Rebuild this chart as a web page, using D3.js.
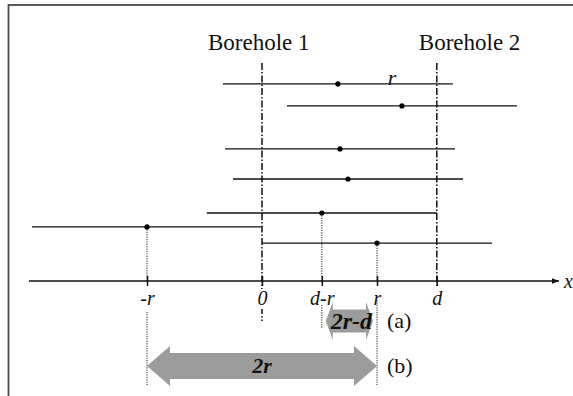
<!DOCTYPE html>
<html>
<head>
<meta charset="utf-8">
<script src="https://cdn.jsdelivr.net/npm/d3@7"></script>
<style>
  html, body { margin: 0; padding: 0; background: #fff; }
  svg { display: block; }
  svg text { font-family: "Liberation Serif", Tinos, "Times New Roman", Times, "DejaVu Serif", serif; fill: #111; }
</style>
</head>
<body>
<svg id="chart" width="573" height="396"></svg>
<script>
// --- data (x in units of r, with d = borehole spacing) ---
var dVal = 1.52;
var boreholeNames = ["Borehole 1", "Borehole 2"];
var boreholeX = [0, dVal];

// sample intervals [c - r, c + r], centre c and row level (0 = axis, 1 = top)
var segCenters = [0.66, 1.217, 0.678, 0.748, dVal - 1, -1, 1];
var segLevels  = [0.904, 0.803, 0.606, 0.468, 0.312, 0.248, 0.174];

var tickValues = [-1, 0, dVal - 1, 1, dVal];
var tickLabels = ["-r", "0", "d-r", "r", "d"];

// dotted guides dropped from the interval centres
var guideX = [-1, dVal - 1, 1];
var guideLevel = [0.248, 0.312, 0.174];

// overlap arrows
var arrowFrom  = [dVal - 1, -1];
var arrowTo    = [1, 1];
var arrowText  = ["2r-d", "2r"];
var arrowTags  = ["(a)", "(b)"];

var FONT = "'Liberation Serif', Tinos, 'Times New Roman', Times, 'DejaVu Serif', serif";

var svg = d3.select("#chart");

var x = d3.scaleLinear().domain([-2, 2.6]).range([32, 561]);
var y = d3.scaleLinear().domain([0, 1]).range([281, 63]);
var axisY = y(0);

// frame (only top and left visible)
svg.append("rect")
  .attr("x", 8.5).attr("y", 5)
  .attr("width", 640).attr("height", 440)
  .attr("fill", "none")
  .attr("stroke", "#4a4a4a")
  .attr("stroke-width", 1.8);

// arrow marker for x axis
svg.append("defs").append("marker")
  .attr("id", "ax")
  .attr("viewBox", "0 0 10 10")
  .attr("refX", 10).attr("refY", 5)
  .attr("markerWidth", 7).attr("markerHeight", 7)
  .attr("markerUnits", "userSpaceOnUse")
  .attr("orient", "auto")
  .append("path")
  .attr("d", "M0,1 L10,5 L0,9 Z")
  .attr("fill", "#111");

// boreholes
var bh = svg.append("g").attr("class", "boreholes");
bh.selectAll("line.top")
  .data(boreholeX)
  .join("line")
  .attr("class", "top")
  .attr("x1", function(d) { return x(d); })
  .attr("x2", function(d) { return x(d); })
  .attr("y1", y(1))
  .attr("y2", function(d, i) { return i === 0 ? axisY + 8 : axisY + 7; })
  .attr("stroke", "#111")
  .attr("stroke-width", 1.5)
  .attr("stroke-dasharray", "7,2,1.5,2");
// short piece of borehole 1 below the "0" label
bh.append("line")
  .attr("x1", x(boreholeX[0])).attr("x2", x(boreholeX[0]))
  .attr("y1", 309).attr("y2", 321)
  .attr("stroke", "#111")
  .attr("stroke-width", 1.5)
  .attr("stroke-dasharray", "5,2,1.5,2");

bh.selectAll("text")
  .data(boreholeNames)
  .join("text")
  .attr("x", function(d, i) { return x(boreholeX[i]) + (i === 0 ? -54 : -18); })
  .attr("y", 50)
  .attr("font-family", FONT)
  .attr("font-size", 23)
  .text(function(d) { return d; });

// dotted guides
var guides = svg.append("g").attr("class", "guides")
  .attr("stroke", "#222").attr("stroke-width", 1)
  .attr("stroke-dasharray", "1.2,1.2");
guides.selectAll("line.up")
  .data(guideX)
  .join("line")
  .attr("class", "up")
  .attr("x1", function(d) { return x(d); })
  .attr("x2", function(d) { return x(d); })
  .attr("y1", function(d, i) { return y(guideLevel[i]); })
  .attr("y2", axisY);
var guideLow = [[312, 385], [305, 328], [300, 385]];
guides.selectAll("line.down")
  .data(guideX)
  .join("line")
  .attr("class", "down")
  .attr("x1", function(d) { return x(d); })
  .attr("x2", function(d) { return x(d); })
  .attr("y1", function(d, i) { return guideLow[i][0]; })
  .attr("y2", function(d, i) { return guideLow[i][1]; });

// intervals
var segs = svg.append("g").attr("class", "segments");
segs.selectAll("line")
  .data(segCenters)
  .join("line")
  .attr("x1", function(d) { return x(d - 1); })
  .attr("x2", function(d) { return x(d + 1); })
  .attr("y1", function(d, i) { return y(segLevels[i]); })
  .attr("y2", function(d, i) { return y(segLevels[i]); })
  .attr("stroke", "#111")
  .attr("stroke-width", 1.3);
segs.selectAll("circle")
  .data(segCenters)
  .join("circle")
  .attr("cx", function(d) { return x(d); })
  .attr("cy", function(d, i) { return y(segLevels[i]); })
  .attr("r", 2.6)
  .attr("fill", "#000");

// radius label on the top interval
svg.append("text")
  .attr("x", x(segCenters[0] + 0.47))
  .attr("y", y(segLevels[0]) + 1)
  .attr("font-family", FONT)
  .attr("font-size", 22)
  .attr("font-style", "italic")
  .attr("text-anchor", "middle")
  .text("r");

// x axis
var axis = d3.axisBottom(x)
  .tickValues(tickValues)
  .tickFormat(function(d, i) { return tickLabels[i]; })
  .tickSizeInner(5)
  .tickSizeOuter(0)
  .tickPadding(5);
var gAxis = svg.append("g")
  .attr("transform", "translate(0," + axisY + ")")
  .call(axis);
gAxis.attr("font-family", FONT);
gAxis.select(".domain").remove();
gAxis.selectAll(".tick line")
  .attr("y1", -5)
  .attr("stroke", "#111")
  .attr("stroke-width", 1.5);
gAxis.selectAll(".tick text")
  .attr("font-family", FONT)
  .attr("font-size", 20)
  .attr("font-style", "italic")
  .attr("fill", "#111");

svg.append("line")
  .attr("x1", 29).attr("x2", 559)
  .attr("y1", axisY).attr("y2", axisY)
  .attr("stroke", "#111")
  .attr("stroke-width", 1.6)
  .attr("marker-end", "url(#ax)");
svg.append("text")
  .attr("x", 564).attr("y", axisY + 7)
  .attr("font-family", FONT)
  .attr("font-size", 20)
  .attr("font-style", "italic")
  .text("x");

// overlap arrows
var arrowY = [321, 366];
var arrowInset = [4, 0];
var shaftHalf = [11.5, 13];
var headHalf = [19, 20];
var headLen = [7, 23];
function arrowPath(i) {
  var x1 = x(arrowFrom[i]) + arrowInset[i],
      x2 = x(arrowTo[i]) - arrowInset[i],
      cy = arrowY[i], sh = shaftHalf[i], hh = headHalf[i], hl = headLen[i];
  return d3.line()([
    [x1, cy], [x1 + hl, cy - hh], [x1 + hl, cy - sh], [x2 - hl, cy - sh],
    [x2 - hl, cy - hh], [x2, cy], [x2 - hl, cy + hh], [x2 - hl, cy + sh],
    [x1 + hl, cy + sh], [x1 + hl, cy + hh]
  ]) + "Z";
}
var arrows = svg.append("g").attr("class", "arrows");
arrows.selectAll("path")
  .data(arrowText)
  .join("path")
  .attr("d", function(d, i) { return arrowPath(i); })
  .attr("fill", "#9c9c9c");
arrows.selectAll("text.lab")
  .data(arrowText)
  .join("text")
  .attr("class", "lab")
  .attr("x", function(d, i) { return (x(arrowFrom[i]) + x(arrowTo[i])) / 2 + (i === 0 ? 2 : 0); })
  .attr("y", function(d, i) { return arrowY[i] + (i === 0 ? 8 : 7); })
  .attr("text-anchor", "middle")
  .attr("font-family", FONT)
  .attr("font-size", function(d, i) { return i === 0 ? 24 : 22; })
  .attr("font-weight", "bold")
  .attr("font-style", "italic")
  .text(function(d) { return d; });
arrows.selectAll("text.tag")
  .data(arrowTags)
  .join("text")
  .attr("class", "tag")
  .attr("x", 387)
  .attr("y", function(d, i) { return arrowY[i] + 7; })
  .attr("font-family", FONT)
  .attr("font-size", 22)
  .text(function(d) { return d; });
</script>
</body>
</html>
